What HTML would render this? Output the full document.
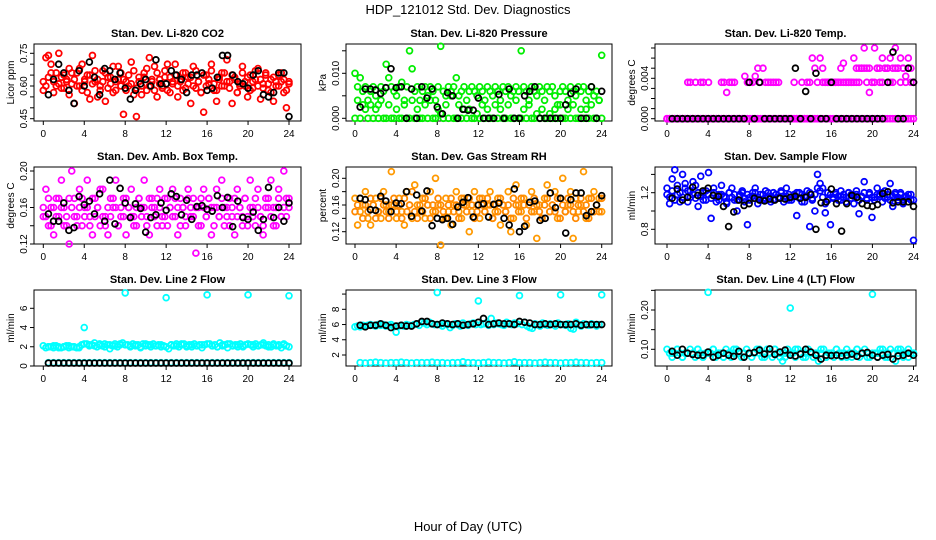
<!DOCTYPE html>
<html><head><meta charset="utf-8">
<style>
html,body{margin:0;padding:0;background:#fff;}
svg{display:block;font-family:"Liberation Sans",sans-serif;}
</style></head>
<body>
<svg id="chart" width="936" height="540" viewBox="0 0 936 540">
<text x="468" y="14" font-size="13" text-anchor="middle">HDP_121012  Std. Dev. Diagnostics</text>
<text x="468" y="531" font-size="13" text-anchor="middle">Hour of Day (UTC)</text>
</svg>
<script>
// ---------- data ----------
const hourTicks = [0,4,8,12,16,20,24];
const co2A = [0.58,0.73,0.74,0.66,0.62,0.60,0.75,0.64,0.59,0.63,0.68,0.61,0.52,0.66,0.60,0.70,0.63,0.57,0.65,0.74,0.62,0.55,0.60,0.67,0.53,0.64,0.61,0.69,0.58,0.63,0.66,0.47,0.62,0.60,0.71,0.56,0.46,0.64,0.60,0.66,0.58,0.73,0.62,0.69,0.55,0.63,0.60,0.67,0.58,0.64,0.61,0.70,0.55,0.62,0.66,0.59,0.64,0.52,0.60,0.67,0.62,0.57,0.48,0.65,0.61,0.70,0.58,0.53,0.63,0.66,0.60,0.72,0.62,0.52,0.64,0.57,0.60,0.69,0.62,0.55,0.65,0.59,0.63,0.68,0.54,0.61,0.66,0.58,0.63,0.53,0.60,0.65,0.62,0.57,0.50,0.62];
const co2B = [0.62,0.60,0.64,0.70,0.57,0.66,0.61,0.59,0.65,0.62,0.56,0.66,0.63,0.60,0.68,0.58,0.62,0.65,0.54,0.61,0.67,0.63,0.58,0.62,0.66,0.59,0.64,0.57,0.62,0.69,0.60,0.63,0.58,0.65,0.61,0.67,0.59,0.62,0.56,0.64,0.68,0.60,0.63,0.58,0.66,0.61,0.59,0.64,0.70,0.57,0.62,0.65,0.60,0.63,0.58,0.66,0.61,0.64,0.69,0.59,0.62,0.57,0.65,0.60,0.63,0.67,0.61,0.58,0.64,0.60,0.66,0.62,0.59,0.65,0.63,0.57,0.61,0.66,0.60,0.64,0.58,0.62,0.67,0.60,0.63,0.59,0.65,0.61,0.57,0.64,0.62,0.60,0.66,0.63,0.58,0.61];
const co2Black = [0.56,0.63,0.70,0.66,0.58,0.52,0.67,0.60,0.71,0.64,0.56,0.68,0.67,0.63,0.66,0.59,0.54,0.58,0.61,0.63,0.60,0.72,0.61,0.61,0.67,0.65,0.63,0.57,0.65,0.65,0.66,0.58,0.59,0.64,0.74,0.74,0.65,0.62,0.61,0.59,0.65,0.67,0.56,0.55,0.57,0.66,0.66,0.46];

const presA = [0.010,0.007,0.009,0.006,0.007,0.004,0.006,0.007,0.005,0.003,0.007,0.006,0.012,0.009,0.007,0.006,0.005,0.007,0.008,0.004,0.007,0.015,0.011,0.006,0.007,0.004,0.006,0.007,0.005,0.007,0.006,0.004,0.007,0.016,0.006,0.005,0.007,0.006,0.007,0.009,0.005,0.006,0.007,0.004,0.006,0.007,0.006,0.005,0.007,0.006,0.004,0.007,0.006,0.005,0.007,0.006,0.004,0.007,0.006,0.007,0.005,0.006,0.007,0.006,0.015,0.007,0.006,0.004,0.007,0.006,0.005,0.007,0.006,0.004,0.007,0.006,0.007,0.005,0.003,0.006,0.007,0.006,0.004,0.007,0.006,0.005,0.007,0.006,0.007,0.004,0.006,0.007,0.005,0.006,0.004,0.014];
const presB = [0,0.004,0,0.003,0.002,0,0.003,0,0.002,0,0.004,0,0,0.003,0,0,0.002,0,0,0.003,0,0,0.004,0,0.002,0,0,0.003,0,0.004,0,0,0.002,0.001,0,0.003,0,0.005,0,0,0.003,0,0.002,0,0.002,0,0,0.001,0,0.003,0,0.002,0,0,0.003,0,0.002,0,0,0.003,0,0,0.004,0,0,0.002,0,0.003,0,0,0.001,0,0.002,0,0,0.001,0,0.002,0,0.003,0,0,0.002,0,0.003,0,0,0.002,0,0.002,0,0.003,0,0,0.004,0];
const presBlack = [0.0025,0.0065,0.0065,0.0063,0.0055,0.0068,0.011,0.0068,0.007,0,0.0065,0,0.007,0.0045,0.0065,0.0025,0.001,0.0057,0.005,0,0.002,0.0018,0.0018,0.0045,0,0,0,0.0053,0,0.0065,0,0,0.005,0.006,0.007,0,0,0,0,0,0.003,0.0055,0.0065,0,0,0.007,0,0.006];

const tempZero = [0,0,0,0,0,0,0,0,0,0,0,0,0,0,0,0,0,0,0,0,0,0,0,0,0,0,0,0,0,0,0,0,0,0,0,0,0,0,0,0,0,0,0,0,0,0,0,0,0,0,0,0,0,0,0,0,0,0,0,0,0,0,0,0,0,0,0,0,0,0,0,0,0,0,0,0,0,0,0,0,0,0,0,0,0,0,0,0,0,0,0,0,0,0,0,0];
const tempA = [0,0,0,0,0,0,0,0,0.0036,0.0036,0,0.0036,0,0.0036,0.0036,0,0.0036,0,0,0,0,0.0036,0.0036,0.0026,0.0036,0.0036,0.0036,0,0,0,0.0042,0.0036,0.0036,0.0036,0.0042,0.005,0.0036,0.005,0.0036,0.0036,0.0036,0.0036,0.0036,0.0036,0,0,0,0,0,0.0036,0,0,0.0036,0,0.0036,0.0036,0.006,0.005,0.0036,0.006,0.005,0.0036,0.0036,0.0036,0.0036,0.0036,0.0036,0.005,0.0055,0.0036,0.0036,0.0036,0.006,0.0036,0.005,0.005,0.007,0.005,0.0026,0.0036,0.007,0.005,0.0036,0.006,0.005,0.005,0.006,0.005,0.007,0.005,0.006,0.005,0.0042,0.006,0.005,0.0036];
const tempB = [0,0,0,0,0,0,0,0,0,0,0,0,0,0,0,0,0,0,0,0,0,0,0,0,0,0,0,0,0,0,0,0,0,0,0,0,0,0,0,0,0,0,0,0,0,0,0,0,0,0,0,0,0,0,0,0,0,0,0,0,0.0036,0.0036,0.0036,0.0036,0.0036,0.0036,0.0036,0.0036,0.0036,0.0036,0.0036,0.0036,0.0036,0.005,0.0036,0.005,0.005,0.0036,0.005,0.0036,0.0036,0.005,0.005,0.0036,0.005,0.005,0.0036,0.0036,0.005,0.005,0.0036,0.005,0.0036,0.005,0.0036,0.0036];
const tempBlack = [0,0,0,0,0,0,0,0,0,0,0,0,0,0,0,0.0036,0,0.0036,0,0,0,0,0,0,0.005,0,0.0027,0,0.0045,0,0,0.0036,0,0,0,0,0,0,0,0,0,0,0.0036,0.0066,0,0,0.005,0.0036];

const ambA = [0.15,0.18,0.14,0.16,0.13,0.17,0.15,0.19,0.16,0.14,0.12,0.20,0.17,0.15,0.18,0.14,0.16,0.19,0.15,0.13,0.17,0.16,0.14,0.18,0.15,0.13,0.17,0.16,0.19,0.14,0.15,0.17,0.13,0.16,0.18,0.15,0.14,0.17,0.16,0.19,0.15,0.13,0.17,0.16,0.14,0.18,0.15,0.17,0.14,0.16,0.18,0.15,0.13,0.17,0.16,0.14,0.18,0.15,0.17,0.11,0.16,0.14,0.18,0.15,0.17,0.13,0.16,0.18,0.15,0.19,0.14,0.16,0.17,0.15,0.13,0.18,0.16,0.14,0.17,0.15,0.19,0.16,0.14,0.18,0.15,0.13,0.17,0.16,0.19,0.14,0.16,0.18,0.15,0.20,0.17,0.16];
const ambB = [0.16,0.15,0.17,0.14,0.16,0.15,0.17,0.16,0.14,0.15,0.17,0.16,0.15,0.14,0.16,0.17,0.15,0.16,0.14,0.17,0.15,0.16,0.18,0.15,0.14,0.16,0.15,0.17,0.16,0.14,0.16,0.15,0.17,0.16,0.15,0.14,0.16,0.17,0.15,0.16,0.14,0.17,0.16,0.15,0.17,0.16,0.14,0.15,0.17,0.16,0.15,0.17,0.16,0.14,0.16,0.15,0.17,0.16,0.15,0.16,0.14,0.17,0.16,0.15,0.17,0.16,0.14,0.16,0.15,0.17,0.16,0.15,0.14,0.16,0.17,0.15,0.16,0.15,0.17,0.14,0.16,0.15,0.17,0.16,0.15,0.14,0.16,0.17,0.15,0.16,0.14,0.17,0.15,0.16,0.15,0.17];
const ambBlack = [0.153,0.145,0.145,0.165,0.135,0.138,0.172,0.163,0.167,0.153,0.175,0.145,0.19,0.142,0.181,0.165,0.149,0.164,0.159,0.133,0.149,0.152,0.165,0.157,0.175,0.172,0.152,0.168,0.147,0.161,0.162,0.158,0.156,0.173,0.160,0.171,0.139,0.167,0.149,0.147,0.155,0.135,0.147,0.182,0.149,0.160,0.145,0.165];

const rhA = [0.17,0.13,0.15,0.16,0.18,0.14,0.13,0.16,0.17,0.15,0.14,0.18,0.16,0.15,0.21,0.16,0.14,0.17,0.15,0.13,0.18,0.16,0.14,0.19,0.16,0.15,0.17,0.14,0.16,0.18,0.15,0.20,0.16,0.10,0.14,0.17,0.15,0.13,0.16,0.18,0.15,0.14,0.17,0.16,0.12,0.15,0.18,0.16,0.14,0.17,0.15,0.16,0.18,0.14,0.15,0.17,0.13,0.16,0.15,0.18,0.12,0.14,0.19,0.16,0.15,0.17,0.13,0.16,0.18,0.15,0.11,0.16,0.14,0.17,0.19,0.15,0.16,0.18,0.14,0.17,0.20,0.15,0.16,0.18,0.11,0.17,0.15,0.16,0.21,0.14,0.17,0.15,0.18,0.16,0.17,0.15];
const rhB = [0.15,0.16,0.17,0.14,0.16,0.15,0.17,0.16,0.14,0.15,0.17,0.16,0.15,0.14,0.16,0.17,0.15,0.16,0.14,0.17,0.15,0.16,0.18,0.15,0.14,0.16,0.15,0.17,0.16,0.14,0.16,0.15,0.17,0.16,0.15,0.14,0.16,0.17,0.15,0.16,0.14,0.17,0.16,0.15,0.17,0.16,0.14,0.15,0.17,0.16,0.15,0.17,0.16,0.14,0.16,0.15,0.17,0.16,0.15,0.16,0.14,0.17,0.16,0.15,0.17,0.16,0.14,0.16,0.15,0.17,0.16,0.15,0.14,0.16,0.17,0.15,0.16,0.15,0.17,0.14,0.16,0.15,0.17,0.16,0.15,0.14,0.16,0.17,0.15,0.16,0.14,0.17,0.15,0.16,0.15,0.17];
const rhBlack = [0.170,0.168,0.153,0.152,0.173,0.166,0.150,0.163,0.162,0.180,0.143,0.175,0.151,0.181,0.129,0.140,0.138,0.140,0.131,0.157,0.164,0.171,0.142,0.160,0.162,0.142,0.161,0.163,0.140,0.130,0.184,0.120,0.128,0.164,0.166,0.137,0.140,0.178,0.156,0.170,0.118,0.168,0.178,0.178,0.144,0.150,0.160,0.174];

const flowA = [1.25,1.08,1.35,1.45,1.18,1.10,1.40,1.30,1.22,1.15,1.32,1.28,1.05,1.38,1.20,1.12,1.42,0.92,1.25,1.10,1.18,1.28,1.15,1.08,1.20,1.25,1.12,1.00,1.18,1.22,1.10,0.85,1.15,1.20,1.25,1.08,1.18,1.12,1.22,1.15,1.10,1.20,1.18,1.14,1.22,1.10,1.25,1.12,1.15,1.18,0.95,1.20,1.10,1.16,1.22,0.83,1.12,1.00,1.40,1.30,1.25,0.98,1.20,0.85,1.15,1.18,1.12,1.22,1.15,1.10,1.20,1.18,1.08,1.22,0.97,1.15,1.32,1.12,1.20,0.93,1.15,1.25,1.18,1.10,1.22,1.15,1.30,1.05,1.18,1.12,1.20,1.08,1.15,1.18,1.12,0.68];
const flowB = [1.18,1.15,1.22,1.12,1.28,1.20,1.15,1.25,1.10,1.22,1.18,1.14,1.20,1.16,1.12,1.22,1.18,1.14,1.20,1.15,1.12,1.18,1.16,1.10,1.20,1.15,1.18,1.12,1.16,1.20,1.14,1.18,1.12,1.16,1.20,1.15,1.12,1.18,1.14,1.20,1.16,1.12,1.18,1.15,1.20,1.14,1.16,1.18,1.12,1.16,1.20,1.14,1.18,1.10,1.16,1.20,1.14,1.18,1.25,1.22,1.15,1.08,1.12,1.18,1.14,1.20,1.16,1.12,1.18,1.15,1.20,1.14,1.16,1.18,1.12,1.16,1.20,1.14,1.18,1.15,1.12,1.18,1.16,1.20,1.14,1.18,1.12,1.16,1.20,1.15,1.18,1.12,1.16,1.14,1.18,1.12];
const flowBlack = [1.14,1.24,1.12,1.15,1.26,1.17,1.22,1.25,1.17,1.16,1.05,0.83,0.99,1.12,1.06,1.08,1.14,1.12,1.11,1.13,1.12,1.14,1.13,1.15,1.16,1.14,1.15,1.18,0.80,1.09,1.10,1.24,1.08,0.78,1.08,1.17,1.15,1.08,1.06,1.05,1.07,1.19,1.21,1.09,1.10,1.10,1.10,1.05];

const line2A = [2.1,1.9,2.0,2.0,1.9,2.1,2.0,1.9,2.0,2.1,1.9,2.0,2.0,1.9,2.0,2.2,4.0,2.3,2.1,2.2,2.4,2.0,2.2,2.1,2.3,2.2,1.8,2.1,2.3,2.0,2.2,2.4,7.6,2.2,2.0,2.3,2.1,2.2,1.9,2.3,2.1,2.2,2.0,2.3,2.1,2.2,2.0,2.1,7.1,1.8,2.2,2.1,2.3,2.0,2.2,2.3,2.1,2.2,2.0,2.3,2.1,2.2,1.9,2.2,7.4,2.3,2.1,2.2,2.0,2.4,2.1,2.2,1.9,2.3,2.1,2.2,2.0,2.3,2.1,2.2,7.4,2.2,2.0,2.3,2.1,2.2,2.4,2.1,2.2,2.0,2.3,2.1,2.2,1.9,2.2,2.1,7.3];
const line2B = [2.0,2.1,1.9,2.0,2.1,2.0,1.9,2.3,2.2,2.1,2.3,2.0,2.2,2.1,2.3,2.2,2.1,2.2,2.0,2.3,2.2,2.1,2.2,2.0,2.2,2.1,2.3,2.0,2.2,2.1,2.2,2.3,2.1,2.0,2.2,2.3,2.1,2.2,2.0,2.3,2.2,2.1,2.2,2.0,2.2,2.1,2.3,2.0];
const line2Low = [0.35,0.35,0.35,0.35,0.35,0.35,0.35,0.35,0.35,0.35,0.35,0.35,0.35,0.35,0.35,0.35,0.35,0.35,0.35,0.35,0.35,0.35,0.35,0.35,0.35,0.35,0.35,0.35,0.35,0.35,0.35,0.35,0.35,0.35,0.35,0.35,0.35,0.35,0.35,0.35,0.35,0.35,0.35,0.35,0.35,0.35,0.35,0.35];
const line2Black = [0.3,0.3,0.3,0.3,0.3,0.3,0.3,0.3,0.3,0.3,0.3,0.3,0.3,0.3,0.3,0.3,0.3,0.3,0.3,0.3,0.3,0.3,0.3,0.3,0.3,0.3,0.3,0.3,0.3,0.3,0.3,0.3,0.3,0.3,0.3,0.3,0.3,0.3,0.3,0.3,0.3,0.3,0.3,0.3,0.3,0.3,0.3,0.3];

const line3A = [5.7,5.8,5.7,5.9,5.8,5.9,6.0,5.9,5.8,6.0,5.9,6.0,5.8,5.9,6.0,5.8,5.0,5.8,5.9,5.8,6.0,5.9,5.8,6.0,6.1,5.9,6.3,6.2,6.0,6.3,6.1,6.0,10.2,6.0,5.8,6.1,6.0,5.6,5.9,6.1,6.0,5.8,6.2,6.0,5.9,6.1,6.2,6.0,9.1,6.0,6.1,6.2,5.9,6.8,6.0,6.2,6.1,6.0,5.9,6.3,6.1,6.0,6.2,6.1,9.8,6.0,6.3,5.8,5.6,5.5,6.1,6.0,5.8,6.2,6.0,5.9,6.1,6.0,5.8,6.2,9.9,6.0,5.9,6.1,5.5,5.4,6.3,6.0,5.8,6.1,6.0,5.9,6.1,6.0,5.8,6.0,9.9];
const line3Low = [1.0,0.95,1.0,1.05,1.0,0.95,1.0,1.0,1.05,1.0,0.95,1.0,1.0,1.0,1.05,1.0,1.0,0.95,1.0,1.0,1.1,1.0,1.0,0.95,1.0,1.05,1.0,1.0,0.95,1.0,1.1,1.0,1.0,1.0,0.95,1.0,1.05,1.0,1.0,0.95,1.0,1.0,1.05,1.0,1.0,0.95,1.0,1.0];
const line3Black = [5.9,5.7,5.9,5.9,6.1,5.9,5.6,5.8,5.9,5.8,5.8,6.1,6.4,6.4,6.1,6.0,6.2,6.1,6.0,6.1,5.9,6.0,6.1,6.3,6.8,6.0,6.1,6.2,6.1,6.1,6.0,6.4,6.3,6.2,6.0,6.0,6.1,6.0,6.1,6.0,6.0,6.0,6.1,5.9,6.0,6.0,6.0,6.0];

const line4A = [0.10,0.09,0.08,0.09,0.10,0.09,0.08,0.09,0.09,0.10,0.09,0.08,0.10,0.09,0.08,0.09,0.245,0.09,0.10,0.08,0.09,0.09,0.08,0.10,0.09,0.08,0.09,0.10,0.09,0.08,0.09,0.10,0.09,0.08,0.09,0.10,0.09,0.08,0.09,0.10,0.09,0.08,0.10,0.09,0.08,0.07,0.09,0.10,0.205,0.09,0.08,0.10,0.09,0.08,0.09,0.10,0.09,0.08,0.09,0.07,0.09,0.10,0.08,0.09,0.09,0.08,0.10,0.09,0.08,0.09,0.10,0.09,0.08,0.09,0.10,0.08,0.09,0.10,0.09,0.08,0.24,0.09,0.08,0.10,0.09,0.08,0.09,0.10,0.09,0.07,0.09,0.10,0.08,0.09,0.10,0.09,0.09];
const line4B = [0.09,0.10,0.08,0.09,0.09,0.10,0.08,0.09,0.10,0.09,0.08,0.09,0.10,0.09,0.08,0.09,0.09,0.10,0.08,0.09,0.10,0.09,0.08,0.09,0.10,0.09,0.08,0.09,0.09,0.10,0.08,0.09,0.10,0.09,0.08,0.09,0.10,0.09,0.08,0.09,0.09,0.10,0.08,0.09,0.10,0.09,0.08,0.09];
const line4Black = [0.095,0.085,0.10,0.09,0.087,0.085,0.085,0.093,0.08,0.085,0.09,0.085,0.082,0.095,0.08,0.09,0.092,0.098,0.088,0.101,0.087,0.093,0.098,0.085,0.083,0.088,0.10,0.093,0.085,0.075,0.085,0.084,0.085,0.083,0.085,0.088,0.082,0.09,0.092,0.085,0.08,0.085,0.087,0.075,0.083,0.085,0.09,0.085];

// y ticks / labels per panel
const co2Ticks = [0.45,0.50,0.55,0.60,0.65,0.70,0.75], co2Labels = ["0.45","0.60","0.75"];
const presTicks = [0,0.005,0.010,0.015], presLabels = ["0.000","0.010"];
const tempTicks = [0,0.001,0.002,0.003,0.004,0.005,0.006,0.007], tempLabels = ["0.000","0.004"];
const ambTicks = [0.12,0.14,0.16,0.18,0.20], ambLabels = ["0.12","0.16","0.20"];
const rhTicks = [0.12,0.14,0.16,0.18,0.20], rhLabels = ["0.12","0.16","0.20"];
const flowTicks = [0.8,1.0,1.2,1.4], flowLabels = ["0.8","1.2"];
const line2Ticks = [0,2,4,6], line2Labels = ["0","2","4","6"];
const line3Ticks = [2,4,6,8,10], line3Labels = ["2","4","6","8"];
const line4Ticks = [0.10,0.15,0.20,0.25], line4Labels = ["0.10","0.20"];

// ---------- layout ----------
const NS = "http://www.w3.org/2000/svg";
const svg = document.getElementById("chart");
const cols = [{bl:34,br:301,x0:43.3,x24:289},{bl:346,br:612,x0:355,x24:601.7},{bl:655,br:916,x0:667,x24:913.5}];
const rows = [{t:44,b:121},{t:167,b:244},{t:290,b:366}];

function mk(tag, attrs, parent){
  const e = document.createElementNS(NS, tag);
  for (const k in attrs) e.setAttribute(k, attrs[k]);
  (parent||svg).appendChild(e);
  return e;
}

function panel(opt){
  const c = cols[opt.col], r = rows[opt.row];
  const g = mk("g", {});
  
  
  const xs = h => c.x0 + (c.x24 - c.x0) * h / 24;
  const ys = v => opt.p0 + (opt.p1 - opt.p0) * (v - opt.v0) / (opt.v1 - opt.v0);
  const t = mk("text", {x:(c.bl+c.br)/2, y:r.t-7, "font-size":11, "font-weight":"bold", "text-anchor":"middle"}, g);
  t.textContent = opt.title;
  
  
  const box = mk("rect", {x:c.bl, y:r.t, width:c.br-c.bl, height:r.b-r.t, fill:"none", stroke:"#000", "stroke-width":1}, g);
  
  
  hourTicks.forEach(h => {
    const x = xs(h);
    const tk = mk("line", {x1:x, x2:x, y1:r.b, y2:r.b+4, stroke:"#000"}, g);
    
    
    const lb = mk("text", {x:x, y:r.b+16, "font-size":10, "text-anchor":"middle"}, g);
    lb.textContent = h;
    
    
  });
  opt.ticks.forEach(v => {
    const y = ys(v);
    const tk = mk("line", {x1:c.bl-4, x2:c.bl, y1:y, y2:y, stroke:"#000"}, g);
    
    
  });
  opt.labels.forEach(s => {
    const y = ys(parseFloat(s));
    const lb = mk("text", {x:0, y:0, "font-size":10, "text-anchor":"middle", transform:`translate(${c.bl-7},${y}) rotate(-90)`}, g);
    lb.textContent = s;
    
    
  });
  const yt = mk("text", {x:0, y:0, "font-size":10, "text-anchor":"middle", transform:`translate(${c.bl-20},${(r.t+r.b)/2}) rotate(-90)`}, g);
  yt.textContent = opt.ylab;
  
  
  opt.series.forEach(s => {
    const n = s.data.length;
    s.data.forEach((v, i) => {
      const h = s.half ? 0.5*(i+1) : 24*i/(n-1);
      const p = mk("circle", {cx:xs(h), cy:ys(v), r:2.9, fill:"none", stroke:s.color, "stroke-width":1.8}, g);
      
      
    });
  });
}

panel({name:"co2", col:0,row:0,title:"Stan. Dev. Li-820 CO2", ylab:"Licor ppm", v0:0.45,p0:118.7,v1:0.75,p1:53.3, ticks:co2Ticks, labels:co2Labels,
  series:[{data:co2A,color:"#ff0000"},{data:co2B,color:"#ff0000"},{data:co2Black,color:"#000",half:true}]});
panel({name:"pressure", col:1,row:0,title:"Stan. Dev. Li-820 Pressure", ylab:"kPa", v0:0,p0:118.3,v1:0.010,p1:73.3, ticks:presTicks, labels:presLabels,
  series:[{data:presA,color:"#00ee00"},{data:presB,color:"#00ee00"},{data:presBlack,color:"#000",half:true}]});
panel({name:"li820-temp", col:2,row:0,title:"Stan. Dev. Li-820 Temp.", ylab:"degrees C", v0:0,p0:118.7,v1:0.004,p1:78.3, ticks:tempTicks, labels:tempLabels,
  series:[{data:tempZero,color:"#ff00ff"},{data:tempA,color:"#ff00ff"},{data:tempB,color:"#ff00ff"},{data:tempBlack,color:"#000",half:true}]});
panel({name:"amb-box-temp", col:0,row:1,title:"Stan. Dev. Amb. Box Temp.", ylab:"degrees C", v0:0.12,p0:244,v1:0.20,p1:171, ticks:ambTicks, labels:ambLabels,
  series:[{data:ambA,color:"#ff00ff"},{data:ambB,color:"#ff00ff"},{data:ambBlack,color:"#000",half:true}]});
panel({name:"gas-stream-rh", col:1,row:1,title:"Stan. Dev. Gas Stream RH", ylab:"percent", v0:0.12,p0:231.7,v1:0.20,p1:178.3, ticks:rhTicks, labels:rhLabels,
  series:[{data:rhA,color:"#ff9900"},{data:rhB,color:"#ff8800"},{data:rhBlack,color:"#000",half:true}]});
panel({name:"sample-flow", col:2,row:1,title:"Stan. Dev. Sample Flow", ylab:"ml/min", v0:0.8,p0:229.3,v1:1.2,p1:192.7, ticks:flowTicks, labels:flowLabels,
  series:[{data:flowA,color:"#0000ff"},{data:flowB,color:"#0000ff"},{data:flowBlack,color:"#000",half:true}]});
panel({name:"line2-flow", col:0,row:2,title:"Stan. Dev. Line 2 Flow", ylab:"ml/min", v0:0,p0:366,v1:6,p1:308.3, ticks:line2Ticks, labels:line2Labels,
  series:[{data:line2A,color:"#00ffff"},{data:line2B,color:"#00ffff",half:true},{data:line2Low,color:"#00ffff",half:true},{data:line2Black,color:"#000",half:true}]});
panel({name:"line3-flow", col:1,row:2,title:"Stan. Dev. Line 3 Flow", ylab:"ml/min", v0:2,p0:355,v1:8,p1:309.3, ticks:line3Ticks, labels:line3Labels,
  series:[{data:line3A,color:"#00ffff"},{data:line3Low,color:"#00ffff",half:true},{data:line3Black,color:"#000",half:true}]});
panel({name:"line4-flow", col:2,row:2,title:"Stan. Dev. Line 4 (LT) Flow", ylab:"ml/min", v0:0.10,p0:349.3,v1:0.20,p1:310, ticks:line4Ticks, labels:line4Labels,
  series:[{data:line4A,color:"#00ffff"},{data:line4B,color:"#00ffff",half:true},{data:line4Black,color:"#000",half:true}]});
</script>
</body></html>
